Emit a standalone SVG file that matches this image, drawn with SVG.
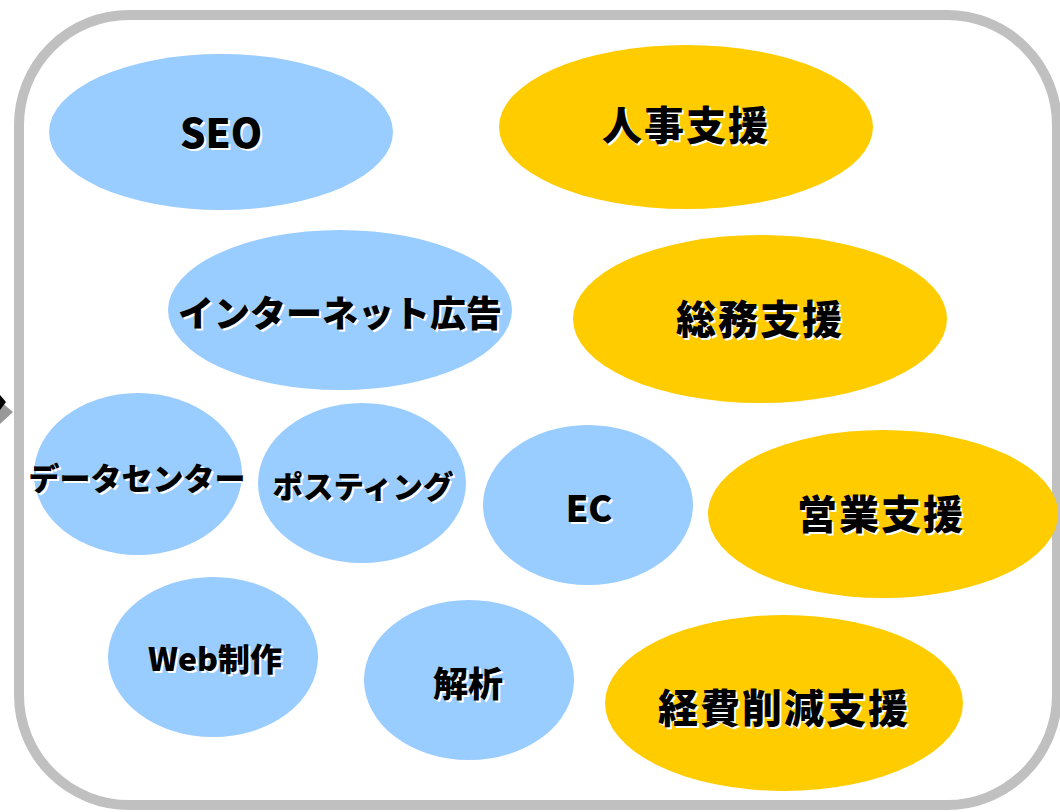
<svg xmlns="http://www.w3.org/2000/svg" width="1060" height="812" viewBox="0 0 1060 812">
<style>
.b{fill:#99CCFF}
.y{fill:#FFCC00}
.t{font-family:"Noto Sans CJK JP","Noto Sans",sans-serif;font-weight:900;text-anchor:middle}
.s{fill:#FFFFFF}
.k{fill:#000000}
</style>
<rect x="19" y="15" width="1038" height="790" rx="110" ry="110" fill="#FFFFFF" stroke="#C0C0C0" stroke-width="10"/>
<g id="arrow">
<polygon points="0,401 13,412 0,424" fill="#999999"/>
<polygon points="0,395 6,402 0,410" fill="#000000"/>
</g>
<g id="connectors"></g>
<g id="seo">
<ellipse class="b" cx="221" cy="132" rx="172" ry="78"/>
<text class="t s" x="223" y="150" font-size="40">SEO</text>
<text class="t k" x="221" y="148" font-size="40">SEO</text>
</g>
<g id="jinji">
<ellipse class="y" cx="686" cy="127" rx="187" ry="82"/>
<text class="t s" x="688" y="142" font-size="40" letter-spacing="2">人事支援</text>
<text class="t k" x="686" y="140" font-size="40" letter-spacing="2">人事支援</text>
</g>
<g id="internet">
<ellipse class="b" cx="340" cy="310" rx="172" ry="80"/>
<text class="t s" x="342" y="329" font-size="36">インターネット広告</text>
<text class="t k" x="340" y="327" font-size="36">インターネット広告</text>
</g>
<g id="soumu">
<ellipse class="y" cx="760" cy="319" rx="187" ry="84"/>
<text class="t s" x="762" y="336" font-size="40" letter-spacing="2">総務支援</text>
<text class="t k" x="760" y="334" font-size="40" letter-spacing="2">総務支援</text>
</g>
<g id="datacenter">
<ellipse class="b" cx="138" cy="474" rx="104" ry="81"/>
<text class="t s" x="139" y="492" font-size="31">データセンター</text>
<text class="t k" x="137" y="490" font-size="31">データセンター</text>
</g>
<g id="posting">
<ellipse class="b" cx="362" cy="483" rx="104" ry="80"/>
<text class="t s" x="365" y="500" font-size="30.5">ポスティング</text>
<text class="t k" x="363" y="498" font-size="30.5">ポスティング</text>
</g>
<g id="ec">
<ellipse class="b" cx="588" cy="505" rx="105" ry="80"/>
<text class="t s" x="591" y="524" font-size="36">EC</text>
<text class="t k" x="589" y="522" font-size="36">EC</text>
</g>
<g id="eigyou">
<ellipse class="y" cx="883" cy="514" rx="175" ry="84"/>
<text class="t s" x="883" y="531" font-size="40" letter-spacing="2">営業支援</text>
<text class="t k" x="881" y="529" font-size="40" letter-spacing="2">営業支援</text>
</g>
<g id="web">
<ellipse class="b" cx="213" cy="657" rx="105" ry="80"/>
<text class="t s" x="217" y="673" font-size="32">Web制作</text>
<text class="t k" x="215" y="671" font-size="32">Web制作</text>
</g>
<g id="kaiseki">
<ellipse class="b" cx="469" cy="680" rx="105" ry="80"/>
<text class="t s" x="470" y="699" font-size="35">解析</text>
<text class="t k" x="468" y="697" font-size="35">解析</text>
</g>
<g id="keihi">
<ellipse class="y" cx="784" cy="703" rx="179" ry="88"/>
<text class="t s" x="786" y="725" font-size="40" letter-spacing="2">経費削減支援</text>
<text class="t k" x="784" y="723" font-size="40" letter-spacing="2">経費削減支援</text>
</g>
</svg>
